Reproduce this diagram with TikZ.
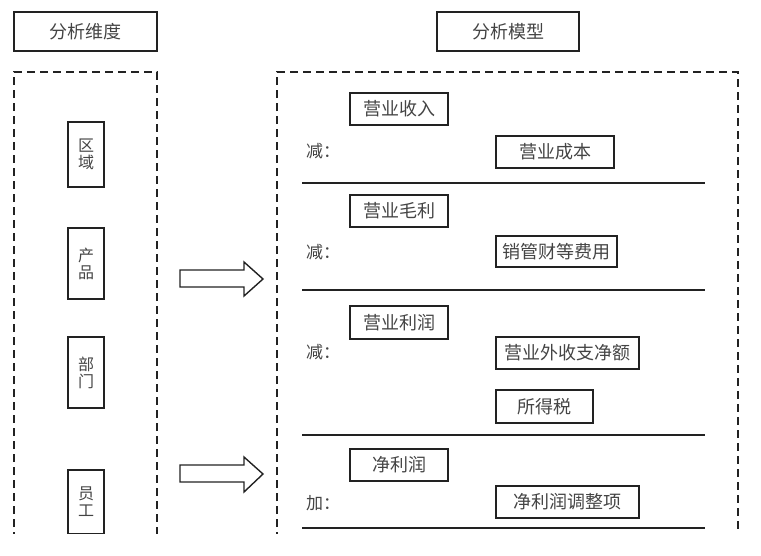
\documentclass[tikz,border=0pt]{standalone}
\usepackage{fontspec}
\newfontfamily\cjk{Noto Sans CJK SC}
\usetikzlibrary{positioning}

\definecolor{ink}{HTML}{222222}
\definecolor{txt}{HTML}{444444}

\tikzset{
  box/.style={draw=ink, line width=1.6pt, inner sep=0pt, text=txt,
    font=\cjk\fontsize{18}{18}\selectfont},
  vbox/.style={box, align=center, minimum width=36pt,
    font=\cjk\fontsize{16}{17}\selectfont},
  frame/.style={draw=ink, dash pattern=on 8pt off 5pt, line width=1.3pt},
  rule/.style={draw=ink, line width=1.2pt},
  blockarrow/.style={draw=ink, line width=1.4pt, line join=miter},
  sign/.style={anchor=west, inner sep=0pt, text=txt,
    font=\cjk\fontsize{17}{17}\selectfont}
}

\begin{document}
\begin{tikzpicture}[x=1pt, y=-1pt]
    \useasboundingbox (0,0) rectangle (761,555);
    \begin{scope}
        \clip (0,0) rectangle (761,533);

        % titles
        \node[box, minimum width=143pt, minimum height=39pt] (dimTitle) at (85.5,31.5) {分析维度};
        \node[box, minimum width=142pt, minimum height=39pt] (modelTitle) at (508,31.5) {分析模型};

        % dashed frames, open at the bottom
        \draw[frame] (14,540) -- (14,72) -- (157,72) -- (157,540);
        \draw[frame] (277,540) -- (277,72) -- (738,72) -- (738,540);

        % dimensions
        \node[vbox, minimum height=65pt] (region) at (86,154.5) {区\\域};
        \node[vbox, minimum height=71pt] (product) at (86,263.5) {产\\品};
        \node[vbox, minimum height=71pt] (dept) at (86,372.5) {部\\门};
        \node[vbox, minimum height=64pt] (staff) at (86,502) {员\\工};

        % block arrows
        \draw[blockarrow] (180,270) -- (244,270) -- (244,262) -- (263,279)
            -- (244,296) -- (244,287) -- (180,287) -- cycle;
        \draw[blockarrow] (180,465) -- (244,465) -- (244,457) -- (263,474)
            -- (244,492) -- (244,482) -- (180,482) -- cycle;

        % model: revenue -> gross profit
        \node[box, minimum width=98pt, minimum height=32pt] (revenue) at (399,109) {营业收入};
        \node[sign] (minusA) at (306,151) {减：};
        \node[box, minimum width=118pt, minimum height=32pt] (cost) at (555,152) {营业成本};
        \draw[rule] (302,183) -- (705,183);

        % gross profit -> operating profit
        \node[box, minimum width=98pt, minimum height=32pt] (gross) at (399,211) {营业毛利};
        \node[sign] (minusB) at (306,252) {减：};
        \node[box, minimum width=121pt, minimum height=31pt] (expense) at (556.5,251.5) {销管财等费用};
        \draw[rule] (302,290) -- (705,290);

        % operating profit -> net profit
        \node[box, minimum width=98pt, minimum height=33pt] (operating) at (399,322.5) {营业利润};
        \node[sign] (minusC) at (306,352) {减：};
        \node[box, minimum width=143pt, minimum height=32pt] (nonop) at (567.5,353) {营业外收支净额};
        \node[box, minimum width=97pt, minimum height=33pt] (tax) at (544.5,406.5) {所得税};
        \draw[rule] (302,435) -- (705,435);

        % net profit
        \node[box, minimum width=98pt, minimum height=32pt] (net) at (399,465) {净利润};
        \node[sign] (plusD) at (306,503) {加：};
        \node[box, minimum width=143pt, minimum height=32pt] (adjust) at (567.5,502) {净利润调整项};
        \draw[rule] (302,528) -- (705,528);
    \end{scope}
\end{tikzpicture}
\end{document}
